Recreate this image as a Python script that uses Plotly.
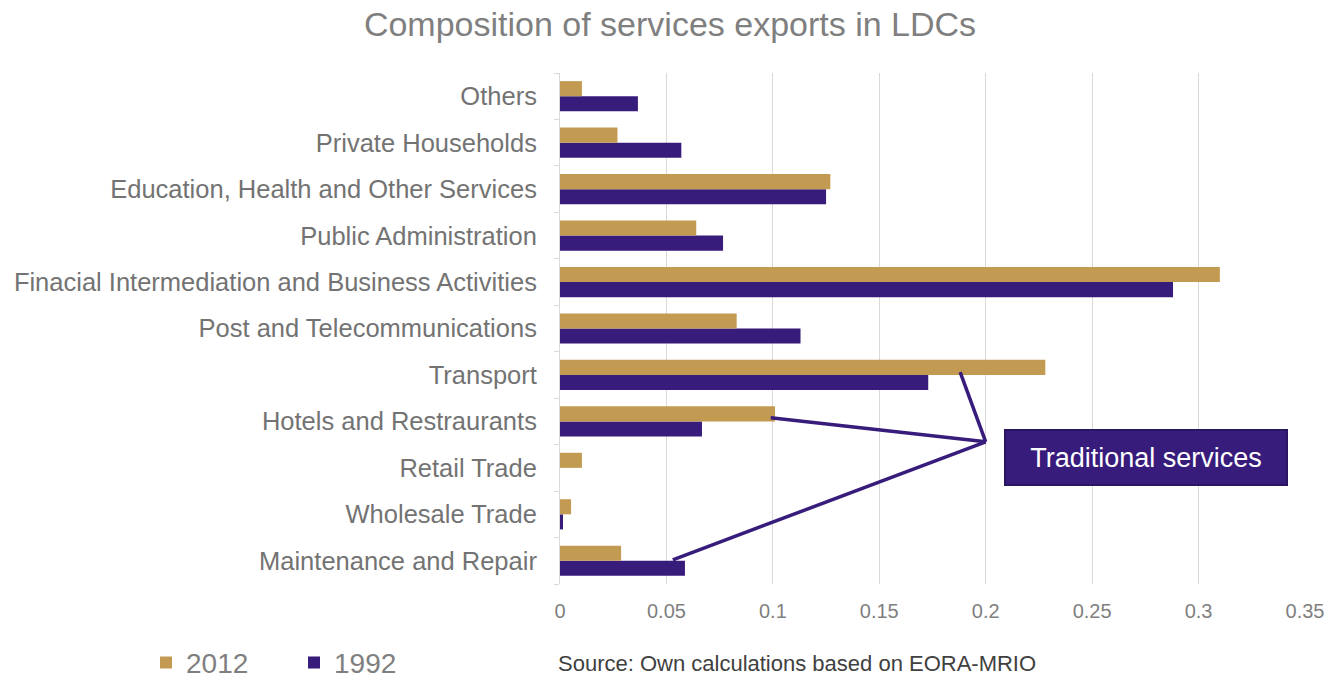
import plotly.graph_objects as go

categories = [
    "Maintenance and Repair",
    "Wholesale Trade",
    "Retail Trade",
    "Hotels and Restraurants",
    "Transport",
    "Post and Telecommunications",
    "Finacial Intermediation and Business Activities",
    "Public Administration",
    "Education, Health and Other Services",
    "Private Households",
    "Others",
]
values_2012 = [0.0287, 0.0052, 0.0103, 0.101, 0.228, 0.083, 0.310, 0.064, 0.127, 0.027, 0.0103]
values_1992 = [0.0587, 0.0014, 0.0, 0.0667, 0.173, 0.113, 0.288, 0.0766, 0.125, 0.057, 0.0366]
x_ticks = [0, 0.05, 0.1, 0.15, 0.2, 0.25, 0.3, 0.35]
x_tick_labels = ["0", "0.05", "0.1", "0.15", "0.2", "0.25", "0.3", "0.35"]

# callout: start points (value, category index offset) and meeting point
callout_target = (0.2, 2.56)
callout_starts = [(0.188, 4.06), (0.099, 3.08), (0.053, 0.02)]

GOLD = "#c39a51"
PURPLE = "#371c7c"
FONT = "Liberation Sans, Arial, sans-serif"

# page body has an 8px margin; figure sized to fill the rest of the 1340x680 window
W, H = 1332, 672

fig = go.Figure()
fig.add_trace(go.Bar(
    y=categories, x=values_1992, name="1992", orientation="h",
    marker=dict(color=PURPLE, line=dict(width=0)),
))
fig.add_trace(go.Bar(
    y=categories, x=values_2012, name="2012", orientation="h",
    marker=dict(color=GOLD, line=dict(width=0)),
))

for sx, sy in callout_starts:
    fig.add_shape(type="line", xref="x", yref="y",
                  x0=sx, y0=sy, x1=callout_target[0], y1=callout_target[1],
                  line=dict(color=PURPLE, width=3.5))

fig.add_annotation(
    xref="x", yref="y", x=0.2753, y=2.226,
    text="Traditional services", showarrow=False,
    font=dict(family=FONT, size=27, color="white"),
    bgcolor=PURPLE, bordercolor="#2a1562", borderwidth=2, borderpad=2,
    width=276, height=49, align="center",
)

fig.add_annotation(
    xref="paper", yref="paper", x=-0.005, y=-0.1546, xanchor="left", yanchor="middle",
    text="Source: Own calculations based on EORA-MRIO", showarrow=False,
    font=dict(family=FONT, size=22, color="#404040"),
)

fig.update_layout(
    width=W, height=H,
    margin=dict(l=552, r=35, t=65, b=96, autoexpand=False),
    paper_bgcolor="white", plot_bgcolor="white",
    barmode="group", bargap=0.35, bargroupgap=0,
    title=dict(text="Composition of services exports in LDCs", x=0.5 - 4 / W, xanchor="center",
               y=1 - 16 / H, yanchor="middle",
               font=dict(family=FONT, size=34, color="#7f7f7f")),
    font=dict(family=FONT, color="#7f7f7f"),
    showlegend=True,
    legend=dict(orientation="h", x=138 / W, xref="container", y=-0.154, yanchor="middle",
                xanchor="left", traceorder="reversed", entrywidth=103,
                font=dict(family=FONT, size=28, color="#7f7f7f"), itemsizing="constant"),
    xaxis=dict(range=[0, 0.35], tickvals=x_ticks, ticktext=x_tick_labels,
               showgrid=True, gridcolor="#d9d9d9", gridwidth=1, zeroline=False,
               showline=False, ticks="", ticklabelstandoff=13, automargin=False,
               tickfont=dict(family=FONT, size=20, color="#7f7f7f")),
    yaxis=dict(categoryorder="array", categoryarray=categories,
               showline=True, linecolor="#d9d9d9", linewidth=1, automargin=False,
               ticks="outside", ticklen=5, tickcolor="#d9d9d9", tickson="boundaries",
               ticklabelstandoff=17, showgrid=False,
               tickfont=dict(family=FONT, size=25.5, color="#737373")),
)

fig.write_html("out.html")
